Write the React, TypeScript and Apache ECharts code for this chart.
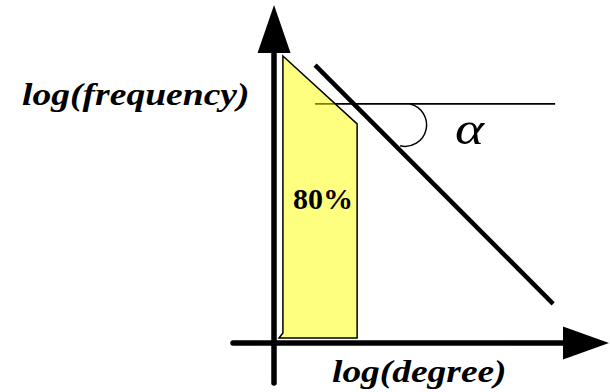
import React, { useEffect, useRef } from "react";
import * as echarts from "echarts";

// Axis ranges in log-log units (origin where the two axes cross)
const xRange = [-1.25, 9.5];
const yRange = [-1.2, 9.4];

// Power-law fit line (slope -1 in log-log space)
const fitLine = [
  [1.25, 8.32],
  [8.5, 1.17],
];

// Horizontal reference line through the top of the fit line
const refLineInside = [
  [1.25, 7.16],
  [1.85, 7.16],
];
const refLine = [
  [1.85, 7.16],
  [8.56, 7.16],
];

// Shaded region holding 80% of the nodes
const shadedRegion = [
  [0.27, 8.59],
  [2.53, 6.56],
  [2.53, 0.15],
  [0.15, 0.15],
  [0.27, 0.3],
];
const shadedLabel = "80%";

// Angle marker between the reference line and the fit line
const angleCenter = [3.99, 6.53];
const angleLabel = "α";

const xTitle = "log(degree)";
const yTitle = "log(frequency)";

const SERIF = "Liberation Serif";

export default function App() {
  const ref = useRef<HTMLDivElement>(null);

  useEffect(() => {
    if (!ref.current) return;
    const chart = echarts.init(ref.current, undefined, { renderer: "svg" });

    const hiddenParts = {
      axisTick: { show: false },
      axisLabel: { show: false },
      splitLine: { show: false },
    };

    const titleStyle = {
      fill: "#000",
      fontFamily: SERIF,
      fontStyle: "italic",
      fontWeight: "bold",
      fontSize: 32,
      align: "left",
      verticalAlign: "middle",
    };

    chart.setOption({
      animation: false,
      backgroundColor: "#ffffff",
      grid: { left: 233, right: 24, top: 29, bottom: 9 },
      xAxis: {
        type: "value",
        min: xRange[0],
        max: xRange[1],
        axisLine: {
          onZero: true,
          symbol: ["none", "triangle"],
          symbolSize: [33, 46],
          lineStyle: { color: "#000", width: 5.5 },
        },
        ...hiddenParts,
      },
      yAxis: {
        type: "value",
        min: yRange[0],
        max: yRange[1],
        axisLine: {
          onZero: true,
          symbol: ["none", "triangle"],
          symbolSize: [33, 48],
          lineStyle: { color: "#000", width: 5.5 },
        },
        ...hiddenParts,
      },
      series: [
        {
          type: "line",
          data: refLineInside,
          symbol: "none",
          z: 1,
          lineStyle: { color: "#000", width: 1.7 },
        },
        {
          type: "line",
          data: refLine,
          symbol: "none",
          z: 1,
          lineStyle: { color: "#000", width: 1.7 },
        },
        {
          type: "custom",
          z: 3,
          clip: false,
          data: [shadedRegion[0]],
          renderItem: (_params: any, api: any) => ({
            type: "polygon",
            shape: { points: shadedRegion.map((p) => api.coord(p)) },
            style: {
              fill: "rgba(255,255,0,0.5)",
              stroke: "#000",
              lineWidth: 1.5,
            },
          }),
        },
        {
          type: "line",
          data: fitLine,
          symbol: "none",
          z: 3,
          lineStyle: { color: "#000", width: 4.5 },
        },
        {
          type: "custom",
          z: 3,
          clip: false,
          data: [angleCenter],
          renderItem: (_params: any, api: any) => {
            const c = api.coord(angleCenter);
            return {
              type: "arc",
              shape: {
                cx: c[0],
                cy: c[1],
                r: 21.5,
                startAngle: -1.337,
                endAngle: 1.804,
                clockwise: true,
              },
              style: { fill: "none", stroke: "#000", lineWidth: 1.5 },
            };
          },
        },
      ],
      graphic: [
        {
          type: "text",
          x: 22,
          y: 94,
          scaleX: 1.175,
          z: 10,
          style: { ...titleStyle, text: yTitle },
        },
        {
          type: "text",
          x: 332,
          y: 371,
          scaleX: 1.17,
          z: 10,
          style: { ...titleStyle, text: xTitle },
        },
        {
          type: "text",
          x: 293,
          y: 198,
          z: 10,
          style: {
            text: shadedLabel,
            fill: "#000",
            fontFamily: SERIF,
            fontWeight: "bold",
            fontSize: 30,
            align: "left",
            verticalAlign: "middle",
          },
        },
        {
          type: "text",
          x: 455,
          y: 129,
          scaleX: 1.2,
          z: 10,
          style: {
            text: angleLabel,
            fill: "#000",
            fontFamily: SERIF,
            fontStyle: "italic",
            fontSize: 46,
            align: "left",
            verticalAlign: "middle",
          },
        },
      ],
    });

    return () => chart.dispose();
  }, []);

  return (
    <div
      ref={ref}
      style={{ position: "absolute", left: 0, top: 0, width: 610, height: 392 }}
    />
  );
}
